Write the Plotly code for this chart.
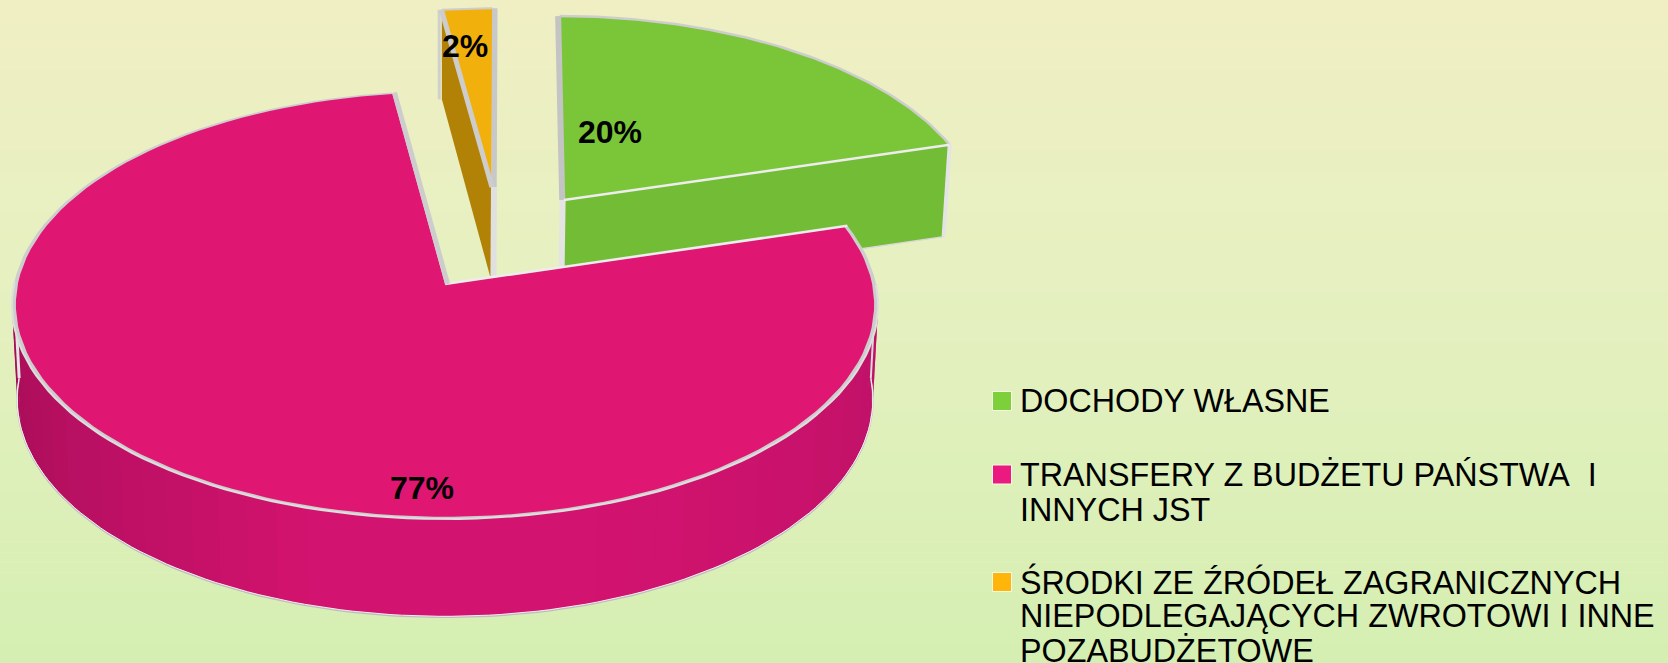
import numpy as np
import plotly.graph_objects as go

# --- data -----------------------------------------------------------------
categories = ["DOCHODY WŁASNE", "TRANSFERY Z BUDŻETU PAŃSTWA  I INNYCH JST",
              "ŚRODKI ZE ŹRÓDEŁ ZAGRANICZNYCH NIEPODLEGAJĄCYCH ZWROTOWI I INNE POZABUDŻETOWE"]
values = [20.45, 77.4, 2.15]
legend_lines = [["DOCHODY WŁASNE"],
                ["TRANSFERY Z BUDŻETU PAŃSTWA\u00a0\u00a0I", "INNYCH JST"],
                ["ŚRODKI ZE ŹRÓDEŁ ZAGRANICZNYCH", "NIEPODLEGAJĄCYCH ZWROTOWI I INNE", "POZABUDŻETOWE"]]
swatch_colors = ["#7ED03A", "#EA1A80", "#FFB50A"]

# --- layout / style ---------------------------------------------------------
W, H = 1668, 663
CX, CY, AX, BY, K = 445.0, 284.0, 431.0, 212.0, 0.0981
CY2, FX2, FY2 = 378.0, 0.988, 1.016
GRAY, LIGHT = "#CDCDCD", "#E4E4E4"
FONT = "Liberation Sans, Arial, sans-serif"
LEAN, LIFT, OY = 0.0, 0.0, 0.0


def proj(c, s, low=False):
    c, s = np.asarray(c, float), np.asarray(s, float)
    w = 1 + K * s
    if low:
        x, y = CX + AX * FX2 * c / w, CY2 - BY * FY2 * s / w
    else:
        x, y = CX + AX * c / w, CY - BY * s / w
    return x + LEAN * (s - OY), y - LIFT * (s - OY)


def arc(f0, f1, ox=0.0, oy=0.0, r=1.0, n=120):
    th = np.linspace(f0, f1, n) * 2 * np.pi / 100
    return ox + r * np.sin(th), oy + r * np.cos(th)


def hexmix(a, b, t):
    a = [int(a[i:i + 2], 16) for i in (1, 3, 5)]
    b = [int(b[i:i + 2], 16) for i in (1, 3, 5)]
    return "#%02X%02X%02X" % tuple(round(x + (y - x) * t) for x, y in zip(a, b))


fig = go.Figure()


def poly(x, y, fill, line=None, lw=0):
    x, y = list(x), list(y)
    fig.add_trace(go.Scatter(x=x + x[:1], y=y + y[:1], mode="lines", fill="toself", fillcolor=fill,
                             line=dict(color=line or fill, width=lw), hoverinfo="skip", showlegend=False))


def path(x, y, color, lw):
    fig.add_trace(go.Scatter(x=list(x), y=list(y), mode="lines", line=dict(color=color, width=lw),
                             hoverinfo="skip", showlegend=False))


def wedge(f0, f1, ox, oy, r=1.0, low=False):
    c, s = arc(f0, f1, ox, oy, r)
    c = np.r_[ox, c]
    s = np.r_[oy, s]
    return proj(c, s, low)


def seg(c0, s0, c1, s1, low0=False, low1=False):
    x0, y0 = proj(c0, s0, low0)
    x1, y1 = proj(c1, s1, low1)
    return [float(x0), float(x1)], [float(y0), float(y1)]


b1 = values[0]
b2 = values[0] + values[1]
b3 = sum(values)

# --- orange slice -----------------------------------------------------------
oox, ooy = 0.113, 0.479
LEAN, LIFT, OY = 5.0, 2.0, ooy
lc, ls = arc(b2, b3, oox, ooy)
xt, yt = seg(lc[0], ls[0], oox, ooy)
xb, yb = seg(lc[0], ls[0], oox, ooy, True, True)
poly(xt + xb[::-1], yt + yb[::-1], "#B28207")
path(*seg(lc[0] - .007, ls[0], lc[0] - .007, ls[0], False, True), "#CFCFCF", 3)
x, y = wedge(b2, b3, oox, ooy)
poly(x, y, "#F2B00D")
path(x[1:], y[1:], GRAY, 2)
path(*seg(oox + .006, ooy, oox + .006, ooy + 1), "#C8C8C8", 5.5)
path(*seg(lc[0] - .001, ls[0], oox + .001, ooy), GRAY, 5)
path(*seg(oox + .006, ooy, oox + .006, ooy, False, True), "#E0E0E0", 6)

# --- green slice ------------------------------------------------------------
gox, goy = 0.287, 0.412
LEAN, LIFT, OY = 6.0, 5.0, goy
gc, gs = arc(0, b1, gox, goy)
xt, yt = seg(gox, goy, gc[-1], gs[-1])
xb, yb = seg(gox, goy, gc[-1], gs[-1], True, True)
poly(xt + xb[::-1], yt + yb[::-1], "#72BC36")
path(xb, yb, "#D8D8D8", 1.5)
path(*seg(gox - .003, goy, gox - .003, goy, False, True), LIGHT, 6)
path(*seg(gc[-1], gs[-1], gc[-1], gs[-1], False, True), LIGHT, 4)
x, y = wedge(0, b1, gox, goy)
poly(x, y, "#7AC638")
path(x[1:], y[1:], GRAY, 2.5)
path(*seg(gox - .004, goy, gox - .004, goy + 1), "#C4C4C4", 6)
path(xt, yt, "#EDEDED", 2.5)
LEAN, LIFT, OY = 0.0, 0.0, 0.0

# --- pink slice -------------------------------------------------------------
left_col, mid_col, right_col = "#A50D58", "#D2136F", "#BD1166"
edges = np.arange(25.0, 75.01, 1.1)
for a, d in zip(edges[:-1], edges[1:]):
    f0, f1 = a, d + 0.15
    c, s = arc(f0, f1, n=5)
    xu, yu = proj(c, s)
    xl, yl = proj(c, s, True)
    m = (a + d) / 2
    col = hexmix(right_col, mid_col, min(1, (m - 25) / 20)) if m < 50 else hexmix(mid_col, left_col, max(0, (m - 55) / 20) ** 0.8)
    poly(list(xu) + list(xl[::-1]), list(yu) + list(yl[::-1]), col)
c, s = arc(25, 75)
xl, yl = proj(c, s, True)
path(xl, yl + 0.5, "#BDBDBD", 1.5)
path(xl, yl - 0.5, "#F4F4F4", 1)
path(*seg(c[0], s[0], c[0], s[0], False, True), "#D9D9D9", 2)
path(*seg(c[-1], s[-1], c[-1], s[-1], False, True), "#E4E4E4", 3)

x, y = wedge(b1, b2, 0, 0)
poly(x, y, GRAY)
x, y = wedge(b1, b2, 0, 0, r=0.991)
poly(x, y, "#E01673")
c, s = arc(b1 + 4, b2 - 4)
xf, yf = proj(c, s)
mask = s < 0.02
path(xf[mask], yf[mask], "#DEDEDE", 2)
c, s = arc(b1, b2)
path(*seg(0, 0, c[0], s[0]), "#EDEDED", 2.5)
path(*seg(0.006, 0.0, c[-1] + 0.006, s[-1]), GRAY, 5)

# --- labels -----------------------------------------------------------------
pct = [f"{round(v)}%" for v in values]
label_xy = [(610, 132), (422, 488), (465, 46)]
for t, (lx, ly) in zip(pct, label_xy):
    fig.add_annotation(x=lx, y=ly, text=f"<b>{t}</b>", showarrow=False, xanchor="center", yanchor="middle",
                       font=dict(family=FONT, size=32, color="#000000"))

# --- legend -----------------------------------------------------------------
swatch_y = [401, 474.5, 582]
line_y = [[400.5], [475, 509.5], [582, 616, 651]]
for col, sy, lines, ys, name in zip(swatch_colors, swatch_y, legend_lines, line_y, categories):
    fig.add_trace(go.Scatter(x=[1002], y=[sy], mode="markers", name=name, showlegend=False, hoverinfo="skip",
                             marker=dict(symbol="square", size=19, color=col, line=dict(color="#F4F8E4", width=1))))
    for text, ty in zip(lines, ys):
        fig.add_annotation(x=1018, y=ty, text=text, showarrow=False, xanchor="left", yanchor="middle",
                           font=dict(family=FONT, size=32.3, color="#000000"))

# --- background gradient ----------------------------------------------------
top, mid, bot = "#F0EFC4", "#E4F0BF", "#D5EFB2"
shapes = []
nbands = 66
for i in range(nbands):
    t = i / (nbands - 1)
    col = hexmix(top, mid, t * 2) if t < .5 else hexmix(mid, bot, (t - .5) * 2)
    shapes.append(dict(type="rect", xref="paper", yref="paper", x0=0, x1=1,
                       y0=1 - i / nbands, y1=1 - (i + 1) / nbands, fillcolor=col,
                       line=dict(width=0), layer="below"))

fig.update_layout(width=W, height=H, margin=dict(l=0, r=0, t=0, b=0), showlegend=False,
                  paper_bgcolor=mid, plot_bgcolor="rgba(0,0,0,0)", shapes=shapes,
                  xaxis=dict(range=[0, W], visible=False, fixedrange=True),
                  yaxis=dict(range=[H, 0], visible=False, fixedrange=True))

fig.write_html("out.html", config={"displayModeBar": False},
               post_script="document.body.style.margin='0';document.body.style.overflow='hidden';")
